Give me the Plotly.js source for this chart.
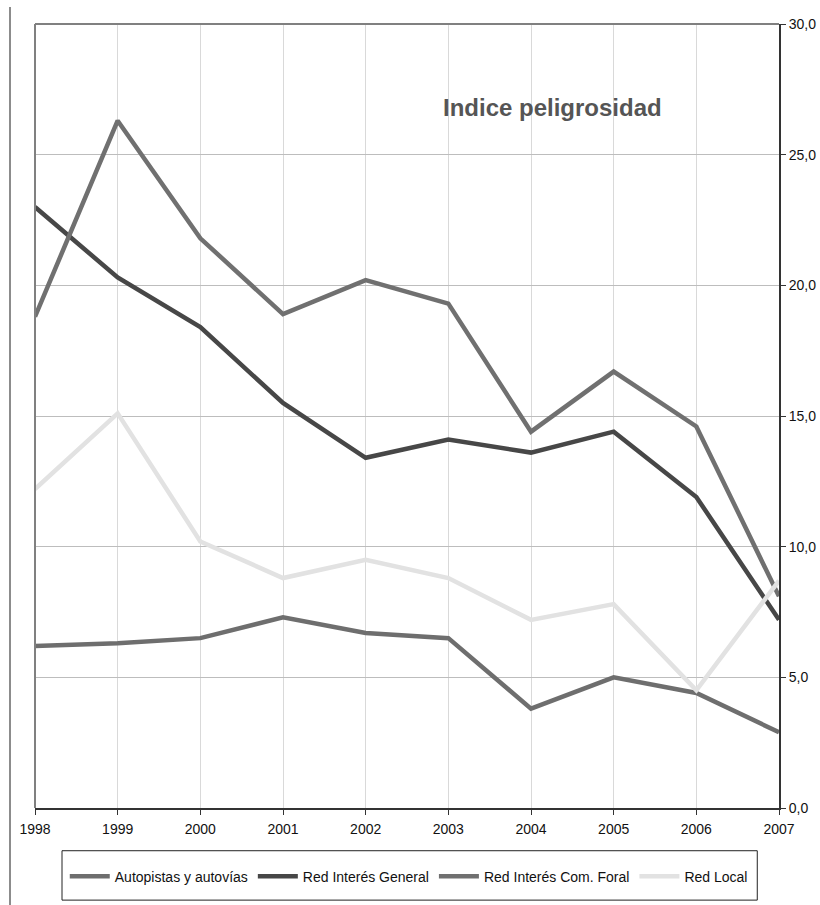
<!DOCTYPE html>
<html>
<head>
<meta charset="utf-8">
<script src="https://cdn.plot.ly/plotly-3.0.1.min.js"></script>
<style>html,body{margin:0;padding:0;background:#fff;}#chart{width:820px;height:905px;}</style>
</head>
<body>
<div id="chart"></div>
<script>
const years = [1998, 1999, 2000, 2001, 2002, 2003, 2004, 2005, 2006, 2007];
const seriesNames = ["Autopistas y autovías", "Red Interés General", "Red Interés Com. Foral", "Red Local"];
const autopistas = [6.2, 6.3, 6.5, 7.3, 6.7, 6.5, 3.8, 5.0, 4.4, 2.9];
const redGeneral = [23.0, 20.3, 18.4, 15.5, 13.4, 14.1, 13.6, 14.4, 11.9, 7.2];
const redForal = [18.8, 26.3, 21.8, 18.9, 20.2, 19.3, 14.4, 16.7, 14.6, 8.1];
const redLocal = [12.2, 15.1, 10.2, 8.8, 9.5, 8.8, 7.2, 7.8, 4.5, 8.7];
const yTicks = [0, 5, 10, 15, 20, 25, 30];
const colors = ["#6e6e6e", "#474747", "#707070", "#e2e2e2"];
const allSeries = [autopistas, redGeneral, redForal, redLocal];

const traces = allSeries.map((vals, i) => ({
  x: years, y: vals, name: seriesNames[i], type: "scatter", mode: "lines",
  line: {color: colors[i], width: 4.5}, hoverinfo: "skip"
}));

const font = "Liberation Sans, Arial, sans-serif";
const layout = {
  width: 820, height: 905,
  margin: {l: 35, r: 41, t: 24, b: 97},
  paper_bgcolor: "#ffffff", plot_bgcolor: "#ffffff",
  separators: ",.",
  showlegend: true,
  font: {family: font, size: 14, color: "#111"},
  xaxis: {
    range: [1998, 2007], tickmode: "array", tickvals: years, ticktext: years.map(String),
    showgrid: true, gridcolor: "#d9d9d9", gridwidth: 1,
    showline: true, linecolor: "#333", linewidth: 1.5,
    ticks: "outside", ticklen: 5, tickcolor: "#333",
    ticklabelstandoff: 3,
    tickfont: {family: font, size: 14, color: "#111"},
    zeroline: false, fixedrange: true
  },
  yaxis: {
    range: [0, 30], side: "right", tickmode: "array", tickvals: yTicks,
    tickformat: ".1f",
    showgrid: true, gridcolor: "#bdbdbd", gridwidth: 1,
    showline: true, linecolor: "#333", linewidth: 2,
    ticks: "outside", ticklen: 5, tickcolor: "#333",
    tickfont: {family: font, size: 14, color: "#111"},
    zeroline: false, fixedrange: true
  },
  legend: {
    orientation: "h", x: 0.04, y: -0.067, xanchor: "left", yanchor: "top",
    bgcolor: "rgba(0,0,0,0)", borderwidth: 0,
    font: {family: font, size: 14, color: "#111"},
    itemwidth: 40, traceorder: "normal"
  },
  annotations: [{
    text: "Indice peligrosidad", xref: "paper", yref: "paper",
    x: 0.696, y: 0.893, xanchor: "center", yanchor: "middle", showarrow: false,
    font: {family: font, size: 24, color: "#555", weight: "bold"}
  }],
  shapes: [
    {type: "line", xref: "paper", yref: "paper", x0: 0, x1: 0, y0: 0, y1: 1, line: {color: "#808080", width: 2}},
    {type: "line", xref: "paper", yref: "paper", x0: 0, x1: 1, y0: 1, y1: 1, line: {color: "#808080", width: 2}},
    {type: "line", xref: "paper", yref: "paper", x0: -0.0336, x1: -0.0336, y0: -0.124, y1: 1.0217, line: {color: "#666", width: 1.5}},
    {type: "rect", xref: "paper", yref: "paper", x0: 0.0363, x1: 0.9708, y0: -0.0545, y1: -0.1175, line: {color: "#222", width: 1}, fillcolor: "rgba(0,0,0,0)"}
  ]
};
Plotly.newPlot("chart", traces, layout, {displayModeBar: false, staticPlot: true});
</script>
</body>
</html>
